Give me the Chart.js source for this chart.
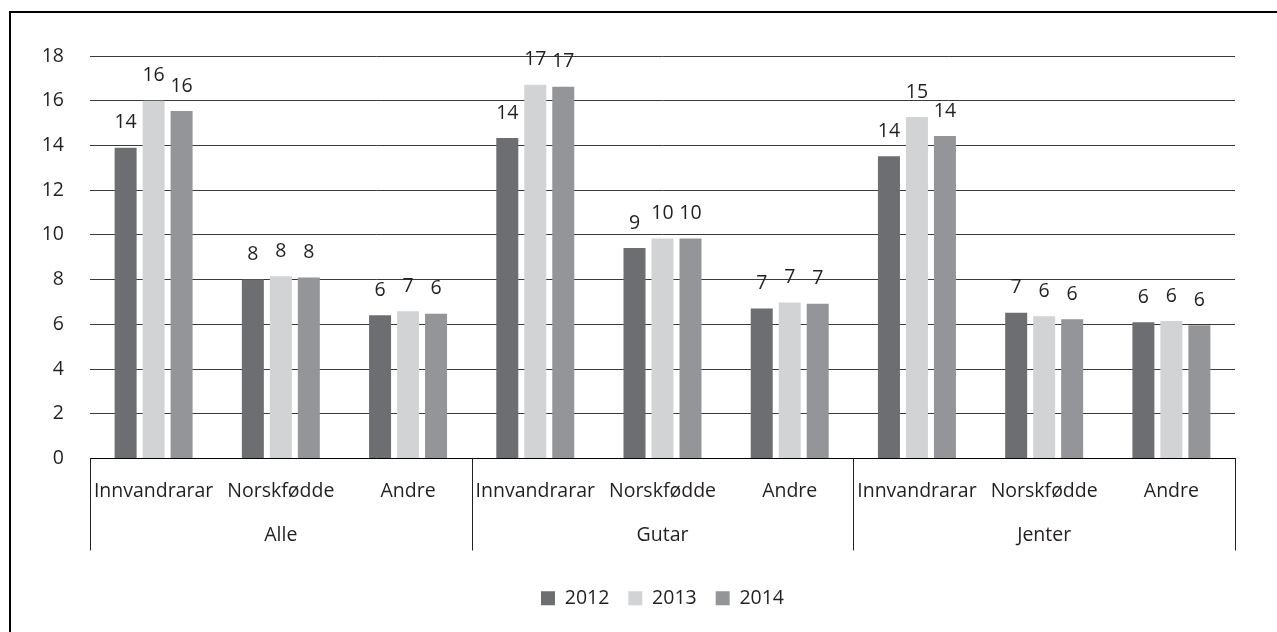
<!DOCTYPE html>
<html>
<head>
<meta charset="utf-8">
<script src="https://cdn.jsdelivr.net/npm/chart.js@4.4.0/dist/chart.umd.min.js"></script>
<style>
  html, body { margin: 0; padding: 0; background: #fff; }
  #wrap { width: 1277px; height: 632px; }
</style>
</head>
<body>
<div id="wrap"><canvas id="chart"></canvas></div>
<script>
// categories and groups
const categories = ["Innvandrarar", "Norskfødde", "Andre", "Innvandrarar", "Norskfødde", "Andre", "Innvandrarar", "Norskfødde", "Andre"];
const groups = ["Alle", "Gutar", "Jenter"];
const years = ["2012", "2013", "2014"];

// values
const v2012 = [13.9, 8.01, 6.41, 14.33, 9.41, 6.71, 13.52, 6.52, 6.09];
const v2013 = [16.0, 8.15, 6.59, 16.71, 9.84, 6.98, 15.27, 6.36, 6.15];
const v2014 = [15.54, 8.09, 6.47, 16.62, 9.84, 6.92, 14.42, 6.23, 5.96];

const yTicks = [0, 2, 4, 6, 8, 10, 12, 14, 16, 18];

const colors = ["#6d6e71", "#d1d3d4", "#939598"];
const textColor = "#231f20";
const fontFamily = "'Open Sans', sans-serif";
const fontSize = 19.5;

//frame, group boxes and value labels
const extras = {
  id: "extras",
  beforeDraw(chart) {
    const ctx = chart.ctx;
    ctx.save();
    ctx.strokeStyle = "#000";
    ctx.lineWidth = 2;
    ctx.beginPath();
    ctx.moveTo(10, chart.height);
    ctx.lineTo(10, 12);
    ctx.lineTo(chart.width, 12);
    ctx.stroke();
    ctx.restore();
  },
  afterDraw(chart) {
    const ctx = chart.ctx;
    const x = chart.scales.x;
    const area = chart.chartArea;
    const per = categories.length / groups.length;
    const step = (area.right - area.left) / categories.length;
    ctx.save();
    // vertical separators of the category box
    ctx.strokeStyle = "#231f20";
    ctx.lineWidth = 1;
    for (let g = 0; g <= groups.length; g++) {
      const px = Math.round(area.left + g * per * step) + 0.5;
      ctx.beginPath();
      ctx.moveTo(px, area.bottom);
      ctx.lineTo(px, area.bottom + 92);
      ctx.stroke();
    }
    // group labels
    ctx.fillStyle = textColor;
    ctx.font = fontSize + "px " + fontFamily;
    ctx.textAlign = "center";
    ctx.textBaseline = "middle";
    for (let g = 0; g < groups.length; g++) {
      const mid = (x.getPixelForValue(g * per) + x.getPixelForValue(g * per + per - 1)) / 2;
      ctx.fillText(groups[g], mid, area.bottom + 77);
    }
    // value labels
    chart.data.datasets.forEach((ds, i) => {
      const meta = chart.getDatasetMeta(i);
      meta.data.forEach((bar, j) => {
        ctx.fillText(Math.round(ds.data[j]), bar.x, bar.y - 25);
      });
    });
    ctx.restore();
  },
};

const chart = new Chart(document.getElementById("chart"), {
  type: "bar",
  data: {
    labels: categories,
    datasets: [
      { label: years[0], data: v2012, backgroundColor: colors[0] },
      { label: years[1], data: v2013, backgroundColor: colors[1] },
      { label: years[2], data: v2014, backgroundColor: colors[2] },
    ],
  },
  options: {
    responsive: true,
    maintainAspectRatio: false,
    animation: false,
    datasets: {
      bar: { categoryPercentage: 0.66, barPercentage: 0.786 },
    },
    layout: { padding: { left: 0, right: 42, top: 56, bottom: 14 } },
    scales: {
      x: {
        grid: { display: false },
        border: { display: true, color: "#000", width: 1 },
        ticks: {
          color: textColor,
          font: { family: fontFamily, size: fontSize },
          padding: 13,
          maxRotation: 0,
          autoSkip: false,
        },
        afterFit(scale) {
          scale.height = 111;
        },
      },
      y: {
        min: 0,
        max: 18,
        afterBuildTicks(scale) {
          scale.ticks = yTicks.map((v) => ({ value: v }));
        },
        grid: { color: "#3a3a3a", lineWidth: 1, drawTicks: false },
        border: { display: false },
        ticks: {
          color: textColor,
          font: { family: fontFamily, size: fontSize },
          padding: 26,
        },
        afterFit(scale) {
          scale.width = 90;
        },
      },
    },
    plugins: {
      legend: {
        position: "bottom",
        fullSize: false,
        labels: {
          boxWidth: 14,
          boxHeight: 14,
          padding: 19,
          color: textColor,
          font: { family: fontFamily, size: fontSize },
        },
      },
      tooltip: { enabled: false },
    },
  },
  plugins: [extras],
});
</script>
</body>
</html>
